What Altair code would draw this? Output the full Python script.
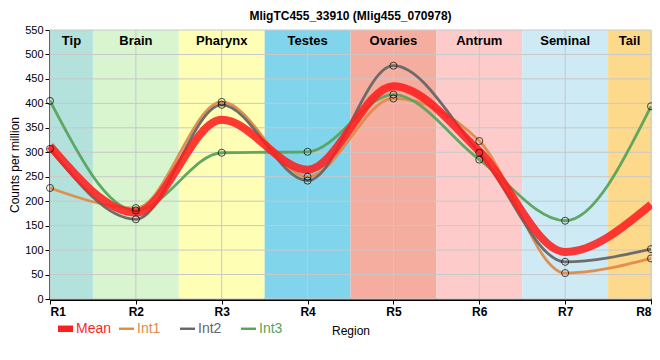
import altair as alt
import pandas as pd

regions = ["R1", "R2", "R3", "R4", "R5", "R6", "R7", "R8"]
tissues = ["Tip", "Brain", "Pharynx", "Testes", "Ovaries", "Antrum", "Seminal", "Tail"]
band_colors = ["#b3e2dd", "#d8f5cf", "#feffb5", "#80d4eb", "#f5ad9f", "#fecbcb", "#cdeaf5", "#fdda8b"]

int1 = [227, 186, 403, 250, 410, 323, 53, 83]
int2 = [307, 163, 397, 242, 477, 299, 76, 102]
int3 = [405, 181, 299, 301, 418, 285, 160, 394]

series_names = ["Mean", "Int1", "Int2", "Int3"]
series_colors = ["#ff1f1f", "#e08a4a", "#666666", "#58a35c"]
mean_symbol = "M-1,-0.43H1V0.43H-1Z"
int_symbol = "M-1,-0.16H1V0.16H-1Z"
y_ticks = list(range(0, 551, 50))

idx = list(range(1, len(regions) + 1))
mean = [(a + b + c) / 3 for a, b, c in zip(int1, int2, int3)]

rows = []
for name, vals in zip(series_names, [mean, int1, int2, int3]):
    for i, v in zip(idx, vals):
        rows.append({"series": name, "idx": i, "value": v})
df = pd.DataFrame(rows)

bands = pd.DataFrame({
    "tissue": tissues,
    "start": [max(1, i - 0.5) for i in idx],
    "end": [min(len(regions), i + 0.5) for i in idx],
    "color": band_colors,
})
bands["mid"] = (bands["start"] + bands["end"]) / 2

xscale = alt.Scale(domain=[1, 8], nice=False, zero=False)
yscale = alt.Scale(domain=[0, 550], nice=False)

label_expr = " : ".join(
    [f"datum.label == '{n}' ? '{c}'" for n, c in zip(series_names[:-1], series_colors[:-1])]
) + f" : '{series_colors[-1]}'"
symbol_expr = f"datum.label == 'Mean' ? '{mean_symbol}' : '{int_symbol}'"

x_axis = alt.Axis(
    values=idx,
    labelExpr="'R' + datum.value",
    labelFontWeight="bold",
    labelFontSize=12,
    labelColor="black",
    labelOverlap=False,
    titleFontWeight="normal",
    titleFontSize=12,
    titleColor="black",
    titlePadding=8,
    domainWidth=3,
    domainColor="black",
    tickColor="black",
    tickSize=5,
    grid=False,
)
y_axis = alt.Axis(
    values=y_ticks,
    labelFontSize=11,
    labelColor="black",
    labelOverlap=False,
    titleFontWeight="normal",
    titleFontSize=12,
    titleColor="black",
    titlePadding=3,
    domainWidth=3,
    domainColor="black",
    tickColor="black",
    tickSize=5,
    grid=False,
)

X = lambda f: alt.X(f, scale=xscale, axis=x_axis, title="Region")
Y = lambda f: alt.Y(f, scale=yscale, axis=y_axis, title="Counts per million")

band_layer = alt.Chart(bands).mark_rect().encode(
    x=X("start:Q"),
    x2="end:Q",
    y=alt.value(0),
    y2=alt.value(269),
    fill=alt.Fill("color:N", scale=None),
)

hgrid = alt.Chart(pd.DataFrame({"v": y_ticks})).mark_rule(color="#c8c8c8", strokeWidth=1).encode(
    y=Y("v:Q"),
)
vgrid = alt.Chart(pd.DataFrame({"v": idx})).mark_rule(color="#c8c8c8", strokeWidth=1).encode(
    x=X("v:Q"),
)

band_text = alt.Chart(bands).mark_text(
    fontWeight="bold", fontSize=13, font="Liberation Sans", baseline="middle", color="black"
).encode(
    x=X("mid:Q"),
    y=alt.value(11),
    text="tissue:N",
)

legend = alt.Legend(
    title=None,
    orient="none",
    direction="horizontal",
    columns=4,
    gridAlign="all",
    legendX=8,
    legendY=291,
    symbolType=alt.ExprRef(symbol_expr),
    symbolSize=225,
    symbolStrokeWidth=0,
    labelFontSize=14,
    labelFontWeight="normal",
    labelOffset=3,
    labelColor=alt.ExprRef(label_expr),
    columnPadding=7,
)

line_color = alt.Color("series:N", scale=alt.Scale(domain=series_names, range=series_colors), legend=None)

int_lines = alt.Chart(df[df["series"] != "Mean"]).mark_line(
    interpolate="monotone", opacity=0.95, strokeWidth=2.8
).encode(
    x=X("idx:Q"),
    y=Y("value:Q"),
    color=line_color,
)
mean_line = alt.Chart(df[df["series"] == "Mean"]).mark_line(
    interpolate="monotone", opacity=0.88, strokeWidth=8
).encode(
    x=X("idx:Q"),
    y=Y("value:Q"),
    color=line_color,
)

points = alt.Chart(df[df["series"] != "Mean"]).mark_point(
    shape="circle", filled=False, color="black", size=50, strokeWidth=1
).encode(
    x=X("idx:Q"),
    y=Y("value:Q"),
)

# legend-only layer (its rows are filtered out, the legend comes from the scale domain)
legend_layer = alt.Chart(df).transform_filter("false").mark_point(
    filled=True, size=225, strokeWidth=0, opacity=1
).encode(
    x=X("idx:Q"),
    y=Y("value:Q"),
    color=alt.Color("series:N", scale=alt.Scale(domain=series_names, range=series_colors), legend=legend),
)

chart = alt.layer(
    band_layer, hgrid, vgrid, band_text, int_lines, mean_line, points, legend_layer
).resolve_scale(color="independent").properties(
    width=601,
    height=269,
    title=alt.TitleParams(
        "MligTC455_33910 (Mlig455_070978)", fontSize=12, fontWeight="bold", anchor="middle", offset=1
    ),
    autosize=alt.AutoSizeParams(type="none"),
    padding={"left": 42, "top": 22, "right": 1, "bottom": 48},
).configure_view(stroke="black", strokeWidth=1).configure(font="Liberation Sans")

chart.save("out.html", embed_options={"renderer": "svg", "actions": False})
